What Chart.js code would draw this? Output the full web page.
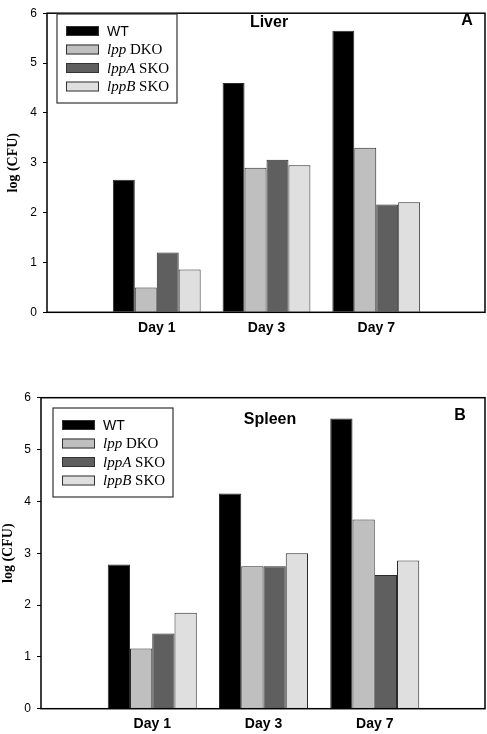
<!DOCTYPE html>
<html>
<head>
<meta charset="utf-8">
<script src="https://cdn.jsdelivr.net/npm/chart.js@4.4.1/dist/chart.umd.min.js"></script>
<style>
body{margin:0;background:#fff;}
canvas{position:absolute;left:0;}
#liverChart{top:0;}
#spleenChart{top:370px;}
</style>
</head>
<body>
<canvas id="liverChart" width="487" height="345"></canvas>
<canvas id="spleenChart" width="487" height="364"></canvas>
<script>
// data
var days = ["Day 1", "Day 3", "Day 7"];
var seriesNames = ["WT", "lpp DKO", "lppA SKO", "lppB SKO"];
var seriesColors = ["#000000", "#bfbfbf", "#5f5f5f", "#dfdfdf"];
var yTicks = [0, 1, 2, 3, 4, 5, 6];

// Liver (A)
var liverWT  = [2.66, 4.60, 5.65];
var liverDKO = [0.50, 2.90, 3.30];
var liverA   = [1.20, 3.06, 2.16];
var liverB   = [0.86, 2.95, 2.21];

// Spleen (B)
var spleenWT  = [2.78, 4.15, 5.60];
var spleenDKO = [1.16, 2.75, 3.65];
var spleenA   = [1.45, 2.75, 2.58];
var spleenB   = [1.85, 3.00, 2.86];

/**
 * frame, legend, panel title
 */
var panelDeco = {
    id: "panelDeco",
    afterDatasetsDraw: function(chart, args, opts) {
        var ctx = chart.ctx;
        var ca = chart.chartArea;
        ctx.save();
        // frame
        ctx.strokeStyle = "#000";
        ctx.lineWidth = 1.5;
        ctx.strokeRect(ca.left, ca.top, ca.right - ca.left - 1, ca.bottom - ca.top);

        // titles
        ctx.fillStyle = "#000";
        ctx.font = "bold 16px 'Liberation Sans', Arial, sans-serif";
        ctx.textAlign = "center";
        ctx.textBaseline = "middle";
        ctx.fillText(opts.title, opts.titleX, opts.titleY);
        ctx.fillText(opts.letter, opts.letterX, opts.letterY);

        // legend
        var lx = opts.legendX, ly = opts.legendY;
        ctx.lineWidth = 1.2;
        ctx.strokeStyle = "#333";
        ctx.strokeRect(lx, ly, 120, 89);
        chart.data.datasets.forEach(function(ds, i) {
            var cy = ly + 17 + i * 18.5;
            ctx.fillStyle = ds.backgroundColor;
            ctx.fillRect(lx + 9, cy - 5, 33, 10);
            ctx.lineWidth = 1;
            ctx.strokeStyle = "#333";
            ctx.strokeRect(lx + 9.5, cy - 4.5, 32, 9);

            ctx.fillStyle = "#000";
            ctx.textAlign = "left";
            ctx.textBaseline = "middle";
            var tx = lx + 50;
            var label = ds.label;
            var sp = label.indexOf(" ");
            if (sp < 0) {
                ctx.font = "14px 'Liberation Sans', Arial, sans-serif";
                ctx.fillText(label, tx, cy + 1);
            } else {
                var gene = label.substring(0, sp);
                var rest = label.substring(sp);
                ctx.font = "italic 15px 'Liberation Serif', 'Times New Roman', serif";
                ctx.fillText(gene, tx, cy + 1);
                var w = ctx.measureText(gene).width;
                ctx.font = "15px 'Liberation Serif', 'Times New Roman', serif";
                ctx.fillText(rest, tx + w, cy + 1);
            }
        });
        ctx.restore();
    }
};

function makePanel(canvasId, seriesValues, deco, geo) {
    // empty slots on both sides
    var labels = [""].concat(days).concat([""]);
    var datasets = seriesNames.map(function(name, i) {
        return {
            label: name,
            data: [null].concat(seriesValues[i]).concat([null]),
            backgroundColor: seriesColors[i],
            borderColor: "#2a2a2a",
            borderWidth: 1,
            barPercentage: 1,
            categoryPercentage: 0.8
        };
    });

    var ctx = document.getElementById(canvasId).getContext("2d");
    new Chart(ctx, {
        type: "bar",
        data: {labels: labels, datasets: datasets},
        options: {
            responsive: false,
            animation: false,
            layout: {padding: {top: geo.top, right: 1, left: 0, bottom: 0}},
            plugins: {
                legend: {display: false},
                tooltip: {enabled: false},
                panelDeco: deco
            },
            scales: {
                x: {
                    offset: false,
                    grid: {display: false, drawTicks: false},
                    border: {display: false},
                    ticks: {
                        autoSkip: false,
                        maxRotation: 0,
                        padding: 7,
                        color: "#000",
                        font: {family: "'Liberation Sans', Arial, sans-serif", size: 14, weight: "bold"}
                    },
                    afterFit: function(scale) {
                        scale.height = geo.xHeight;
                        scale.paddingLeft = 0;
                        scale.paddingRight = 0;
                    }
                },
                y: {
                    min: 0,
                    max: 6,
                    afterBuildTicks: function(scale) {
                        scale.ticks = yTicks.map(function(v) { return {value: v}; });
                    },
                    grid: {drawOnChartArea: false, drawTicks: true, tickLength: 4, tickColor: "#000", tickWidth: 1},
                    border: {display: false},
                    ticks: {
                        padding: 6,
                        color: "#000",
                        font: {family: "'Liberation Sans', Arial, sans-serif", size: 12}
                    },
                    title: {
                        display: true,
                        text: "log (CFU)",
                        color: "#000",
                        padding: {top: geo.titlePad, bottom: 0},
                        font: {family: "'Liberation Serif', 'Times New Roman', serif", size: 14, weight: "bold"}
                    },
                    afterFit: function(scale) { scale.width = geo.yWidth; }
                }
            }
        },
        plugins: [panelDeco]
    });
}

makePanel("liverChart", [liverWT, liverDKO, liverA, liverB],
    {title: "Liver", letter: "A", titleX: 269, titleY: 23, letterX: 467, letterY: 21, legendX: 57, legendY: 14},
    {top: 5, xHeight: 32.7, yWidth: 47, titlePad: 4.6});

makePanel("spleenChart", [spleenWT, spleenDKO, spleenA, spleenB],
    {title: "Spleen", letter: "B", titleX: 270, titleY: 50, letterX: 460, letterY: 46, legendX: 53, legendY: 38},
    {top: 27.7, xHeight: 25.3, yWidth: 41, titlePad: -0.4});
</script>
</body>
</html>
